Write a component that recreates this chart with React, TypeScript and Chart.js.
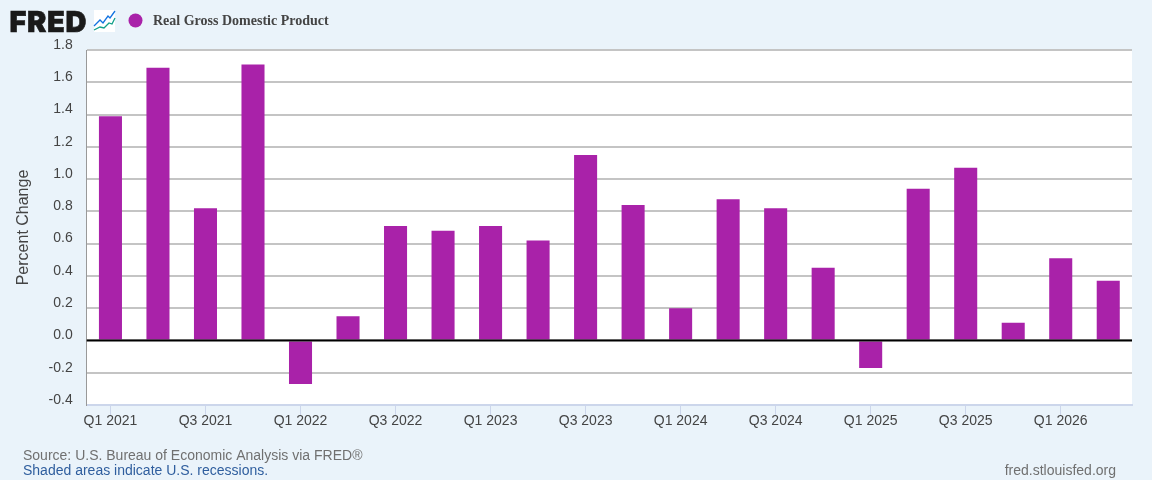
import { useEffect, useRef } from "react";
import Chart from "chart.js/auto";

const quarters = [
  "Q1 2021", "Q2 2021", "Q3 2021", "Q4 2021",
  "Q1 2022", "Q2 2022", "Q3 2022", "Q4 2022",
  "Q1 2023", "Q2 2023", "Q3 2023", "Q4 2023",
  "Q1 2024", "Q2 2024", "Q3 2024", "Q4 2024",
  "Q1 2025", "Q2 2025", "Q3 2025", "Q4 2025",
  "Q1 2026", "Q2 2026",
];
const gdpChange = [
  1.39, 1.69, 0.82, 1.71,
  -0.27, 0.15, 0.71, 0.68,
  0.71, 0.62, 1.15, 0.84,
  0.2, 0.875, 0.82, 0.45,
  -0.17, 0.94, 1.07, 0.11,
  0.51, 0.37,
];
const seriesName = "Real Gross Domestic Product";
const axisTitle = "Percent Change";
const sourceNote = "Source: U.S. Bureau of Economic Analysis via FRED®";
const recessionNote = "Shaded areas indicate U.S. recessions.";
const siteName = "fred.stlouisfed.org";

const PAGE_BG = "#eaf3fa";
const BAR_COLOR = "#a922a9";
const SANS = "Arial, 'Liberation Sans', sans-serif";

// plot background, has to go under the grid
const plotBackground = {
  id: "plotBackground",
  beforeDraw(chart: Chart) {
    const { ctx, chartArea } = chart;
    ctx.save();
    ctx.fillStyle = "#fff";
    ctx.fillRect(chartArea.left, chartArea.top, chartArea.width, chartArea.height);
    ctx.restore();
  },
};

// the zero line sits on top of the bars, other grid lines stay behind
const zeroLine = {
  id: "zeroLine",
  afterDatasetsDraw(chart: Chart) {
    const { ctx, chartArea, scales } = chart;
    const y = scales.y.getPixelForValue(0);
    ctx.save();
    ctx.strokeStyle = "#000";
    ctx.lineWidth = 2;
    ctx.beginPath();
    ctx.moveTo(chartArea.left, y);
    ctx.lineTo(chartArea.right, y);
    ctx.stroke();
    ctx.restore();
  },
};

// FRED logo, legend and footer notes
const furniture = {
  id: "furniture",
  afterDraw(chart: Chart) {
    const { ctx } = chart;
    ctx.save();

    ctx.fillStyle = "#1a1a1a";
    ctx.strokeStyle = "#1a1a1a";
    ctx.lineWidth = 0.6;
    ctx.font = "900 29px Inter, 'Liberation Sans', sans-serif";
    ctx.letterSpacing = "0.6px";
    ctx.textBaseline = "alphabetic";
    ctx.textAlign = "left";
    ctx.fillText("FRED", 9.5, 32);
    ctx.strokeText("FRED", 9.5, 32);
    ctx.letterSpacing = "0px";

    // small logo icon
    ctx.fillStyle = "#fff";
    ctx.fillRect(94, 10, 21, 22);
    ctx.lineWidth = 1.3;
    ctx.strokeStyle = "#1172e0";
    ctx.beginPath();
    ctx.moveTo(94, 26);
    ctx.lineTo(100, 20);
    ctx.lineTo(103, 23);
    ctx.lineTo(108, 16);
    ctx.lineTo(110, 18);
    ctx.lineTo(115, 11);
    ctx.stroke();
    ctx.strokeStyle = "#12a08a";
    ctx.beginPath();
    ctx.moveTo(94, 30);
    ctx.lineTo(100, 27);
    ctx.lineTo(104, 28);
    ctx.lineTo(109, 23);
    ctx.lineTo(112, 24);
    ctx.lineTo(115, 18);
    ctx.stroke();

    // legend
    ctx.fillStyle = BAR_COLOR;
    ctx.beginPath();
    ctx.arc(135.5, 20.5, 7, 0, Math.PI * 2);
    ctx.fill();
    ctx.fillStyle = "#444";
    ctx.font = "bold 14px 'Liberation Serif', 'Times New Roman', serif";
    ctx.textBaseline = "middle";
    ctx.fillText(seriesName, 153, 21.5);

    // footer
    ctx.font = `14px ${SANS}`;
    ctx.textBaseline = "alphabetic";
    ctx.fillStyle = "#707070";
    ctx.fillText(sourceNote, 23, 460);
    ctx.fillStyle = "#2f5e9e";
    ctx.fillText(recessionNote, 23, 475);
    ctx.fillStyle = "#707070";
    ctx.textAlign = "right";
    ctx.fillText(siteName, 1116, 475);
    ctx.restore();
  },
};

const App = () => {
  const chartRef = useRef<HTMLCanvasElement | null>(null);

  useEffect(() => {
    if (!chartRef.current) return;
    document.body.style.margin = "0";
    document.body.style.background = PAGE_BG;

    const chart = new Chart(chartRef.current, {
      type: "bar",
      data: {
        labels: quarters,
        datasets: [{
          label: seriesName,
          data: gdpChange,
          backgroundColor: BAR_COLOR,
          barPercentage: 0.485,
          categoryPercentage: 1,
        }],
      },
      plugins: [plotBackground, zeroLine, furniture],
      options: {
        animation: false,
        responsive: false,
        maintainAspectRatio: false,
        layout: { padding: { top: 50, right: 20, bottom: 35, left: 0 } },
        plugins: {
          legend: { display: false },
          tooltip: { enabled: false },
        },
        scales: {
          x: {
            afterFit: (scale: any) => { scale.height = 40; },
            grid: {
              drawOnChartArea: false,
              tickLength: 10,
              tickWidth: 1,
              tickColor: (c: any) => (c.index % 2 === 0 ? "#ccd6eb" : "transparent"),
              offset: false,
            },
            border: { color: "#ccd6eb", width: 2 },
            ticks: {
              autoSkip: false,
              maxRotation: 0,
              padding: -2,
              color: "#444",
              font: { family: SANS, size: 14 },
              callback: (_v: any, i: number) => (i % 2 === 0 ? quarters[i] : ""),
            },
          },
          y: {
            min: -0.4,
            max: 1.8,
            afterFit: (scale: any) => { scale.width = 86.7; },
            grid: {
              color: "#c4c4c4",
              lineWidth: 2,
              drawTicks: false,
            },
            border: { color: "#999", width: 1 },
            title: {
              display: true,
              text: axisTitle,
              color: "#444",
              font: { family: SANS, size: 16 },
              padding: { top: 14, bottom: 0 },
            },
            ticks: {
              stepSize: 0.2,
              padding: 14,
              color: "#444",
              font: { family: SANS, size: 14, lineHeight: 0.72 },
              // empty second line lifts the label above its grid line, like FRED does
              callback: (v: any) => [Number(v).toFixed(1), ""],
            },
          },
        },
      },
    });

    return () => {
      chart.destroy();
    };
  }, []);

  return <canvas ref={chartRef} width={1152} height={480} style={{ display: "block" }} />;
};

export default App;
